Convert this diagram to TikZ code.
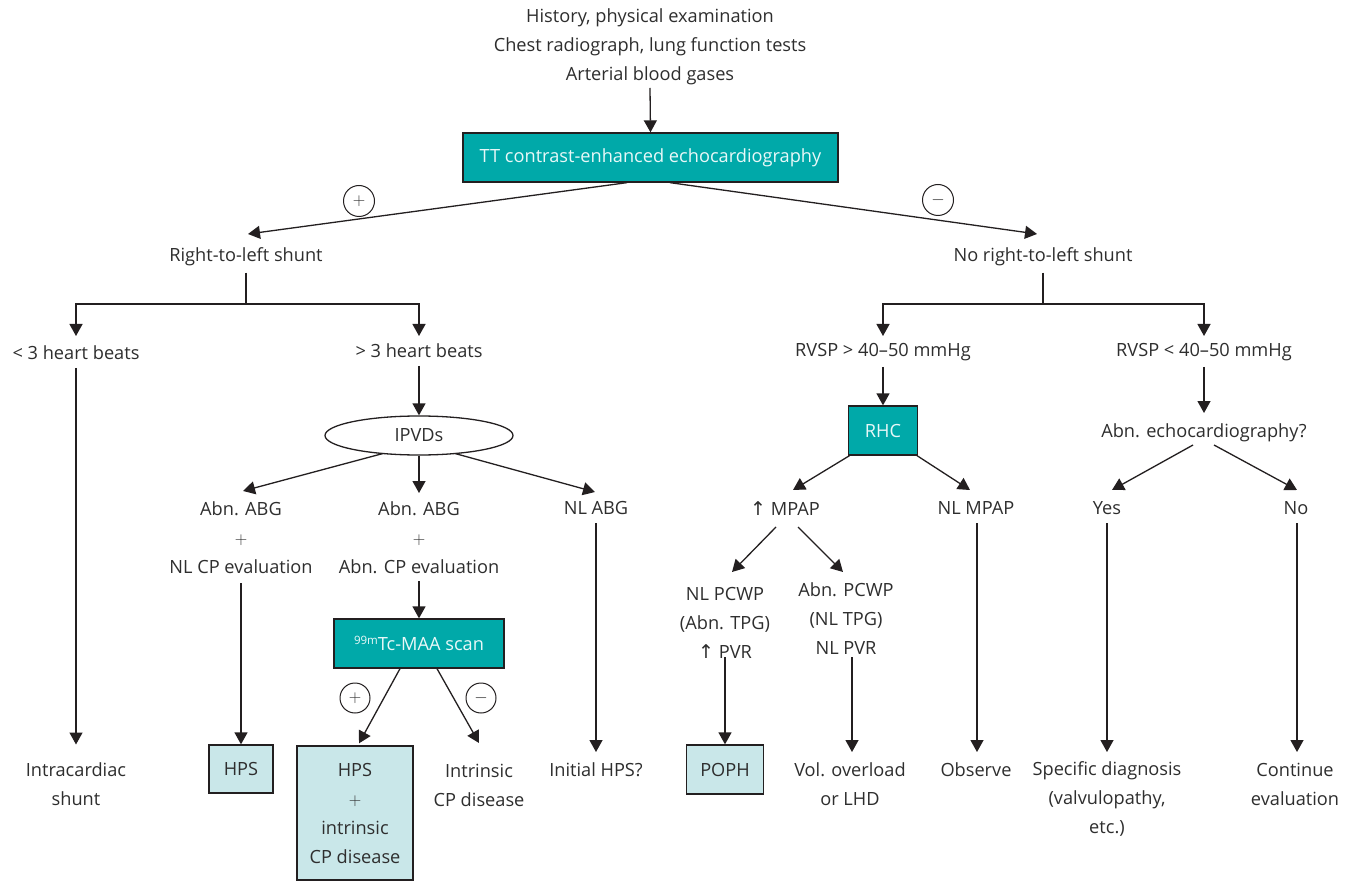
\documentclass[tikz,border=0pt]{standalone}
\usepackage{fontspec}
\setmainfont{Open Sans}
\newfontfamily\arrowfont{DejaVu Sans}
\usetikzlibrary{arrows.meta,shapes.geometric}
\definecolor{inkline}{HTML}{231F20}
\definecolor{inktext}{HTML}{2E2E2E}
\definecolor{tealfill}{HTML}{00A9A9}
\definecolor{palefill}{HTML}{C9E7E9}
\definecolor{tealtext}{HTML}{E8F8F8}
\newcommand{\up}{{\arrowfont\fontsize{19}{19}\selectfont ↑}}
\newcommand{\plusline}{$+$}
\begin{document}
\begin{tikzpicture}[x=1pt,y=-1pt,
  txt/.style={font=\fontsize{18.2}{29}\selectfont, text=inktext, align=center, inner sep=0pt},
  arr/.style={draw=inkline, line width=1.3pt, -{Triangle[length=12pt,width=13pt]}},
  tealbox/.style={txt, rectangle, draw=inkline, line width=1.3pt, fill=tealfill, text=tealtext},
  palebox/.style={txt, rectangle, draw=inkline, line width=1.3pt, fill=palefill},
  sign/.style={circle, draw=inkline, line width=1pt, minimum size=31pt, inner sep=0pt, text=inktext, font=\fontsize{17}{17}\selectfont}
]
\useasboundingbox (0,0) rectangle (1357,882);
\fill[white] (0,0) rectangle (1357,882);

% ---- top of the algorithm
\node[txt] (intro) at (650,47) {History, physical examination\\Chest radiograph, lung function tests\\Arterial blood gases};
\node[tealbox, minimum width=375pt, minimum height=49pt] (tt) at (650.5,157.5) {TT contrast-enhanced echocardiography};
\node[sign] (pos1) at (359,201) {$+$};
\node[sign] (neg1) at (938,200) {$-$};
\node[txt] (rls) at (246,257) {Right-to-left shunt};
\node[txt] (nrls) at (1043,257) {No right-to-left shunt};

% ---- right-to-left shunt branch
\node[txt] (lt3) at (76,353) {< 3 heart beats};
\node[txt] (gt3) at (419,351) {> 3 heart beats};
\node[txt] (intra) at (76,784.5) {Intracardiac\\shunt};
\node[ellipse, draw=inkline, line width=1.3pt, minimum width=188pt, minimum height=39pt, inner sep=0pt, txt] (ipvd) at (419,435.5) {IPVDs};
\node[txt] (abg1) at (241,537.5) {Abn. ABG\\\plusline\\NL CP evaluation};
\node[txt] (abg2) at (419,537.5) {Abn. ABG\\\plusline\\Abn. CP evaluation};
\node[txt] (nlabg) at (596,508) {NL ABG};
\node[palebox, minimum width=64pt, minimum height=48pt] (hps) at (241,769) {HPS};
\node[tealbox, minimum width=170pt, minimum height=49pt] (tc) at (419,643.5) {{\fontsize{11.5}{11.5}\selectfont\raisebox{6.5pt}{99m}}Tc-MAA scan};
\node[sign, minimum size=30pt] (pos2) at (355,698) {$+$};
\node[sign, minimum size=30pt] (neg2) at (481,698) {$-$};
\node[palebox, minimum width=116pt, minimum height=134pt] (hpsint) at (355,813) {HPS\\\plusline\\intrinsic\\CP disease};
\node[txt] (cpd) at (479,785.5) {Intrinsic\\CP disease};
\node[txt] (inithps) at (596,770) {Initial HPS?};

% ---- no right-to-left shunt branch
\node[txt] (rvsp1) at (883,352) {RVSP > 40–50 mmHg};
\node[txt] (rvsp2) at (1204,352) {RVSP < 40–50 mmHg};
\node[tealbox, minimum width=69pt, minimum height=49pt] (rhc) at (883,430.5) {RHC};
\node[txt] (mpap) at (785,509) {\up\ MPAP};
\node[txt] (nlmpap) at (976,508) {NL MPAP};
\node[txt] (pcwp1) at (725,622.5) {NL PCWP\\(Abn. TPG)\\\up\ PVR};
\node[txt] (pcwp2) at (846,619) {Abn. PCWP\\(NL TPG)\\NL PVR};
\node[palebox, minimum width=77pt, minimum height=49pt] (poph) at (725,769.5) {POPH};
\node[txt] (volo) at (850,784.5) {Vol. overload\\or LHD};
\node[txt] (observe) at (976,770) {Observe};
\node[txt] (abnecho) at (1204,433) {Abn. echocardiography?};
\node[txt] (yes) at (1107,508) {Yes};
\node[txt] (no) at (1296,508) {No};
\node[txt] (spec) at (1107,799) {Specific diagnosis\\(valvulopathy,\\etc.)};
\node[txt] (cont) at (1295,784.5) {Continue\\evaluation};

% ---- connectors
\draw[arr] ([yshift=-41]intro.center) -- (tt.north);
\draw[arr] ([xshift=-23.5]tt.south) -- ([xshift=2,yshift=23]rls.center);
\draw[arr] ([xshift=19.5]tt.south) -- ([xshift=-6,yshift=23]nrls.center);

\draw[arr] ([yshift=-16]rls.center) -- ++(0,31) -| ([yshift=17]lt3.center);
\draw[arr] ([yshift=-16]rls.center) -- ++(0,31) -| ([yshift=15]gt3.center);
\draw[arr] ([yshift=-16]nrls.center) -- ++(0,31) -| ([yshift=16]rvsp1.center);
\draw[arr] ([yshift=-16]nrls.center) -- ++(0,31) -| ([yshift=16]rvsp2.center);

\draw[arr] ([yshift=-15]lt3.center) -- ([yshift=40]intra.center);
\draw[arr] ([yshift=-15]gt3.center) -- (ipvd.north);
\draw[arr] ([xshift=-36,yshift=-18]ipvd.center) -- ([xshift=2,yshift=46.5]abg1.center);
\draw[arr] (ipvd.south) -- ([yshift=44.5]abg2.center);
\draw[arr] ([xshift=36,yshift=-18]ipvd.center) -- ([xshift=-1,yshift=16]nlabg.center);
\draw[arr] ([yshift=-45.5]abg1.center) -- (hps.north);
\draw[arr] ([yshift=-43.5]abg2.center) -- (tc.north);
\draw[arr] ([xshift=-19]tc.south) -- ([xshift=4,yshift=2]hpsint.north);
\draw[arr] ([xshift=18]tc.south) -- ([yshift=42.5]cpd.center);
\draw[arr] ([yshift=-15]nlabg.center) -- ([yshift=18]inithps.center);

\draw[arr] ([yshift=-15]rvsp1.center) -- (rhc.north);
\draw[arr] ([xshift=-33.5]rhc.south) -- ([xshift=8,yshift=19]mpap.center);
\draw[arr] ([xshift=34]rhc.south) -- ([xshift=-6,yshift=18]nlmpap.center);
\draw[arr] ([xshift=-9,yshift=-18]mpap.center) -- ([xshift=7,yshift=50.5]pcwp1.center);
\draw[arr] ([xshift=13,yshift=-18]mpap.center) -- ([xshift=-3,yshift=47]pcwp2.center);
\draw[arr] ([yshift=-34.5]pcwp1.center) -- (poph.north);
\draw[arr] ([xshift=6,yshift=-38]pcwp2.center) -- ([xshift=2,yshift=32.5]volo.center);
\draw[arr] ([xshift=1,yshift=-15]nlmpap.center) -- ([xshift=1,yshift=18]observe.center);
\draw[arr] ([yshift=-15]rvsp2.center) -- ([yshift=20]abnecho.center);
\draw[arr] ([xshift=-11,yshift=-12]abnecho.center) -- ([xshift=5,yshift=18]yes.center);
\draw[arr] ([xshift=10,yshift=-12]abnecho.center) -- ([xshift=1,yshift=18]no.center);
\draw[arr] ([yshift=-15]yes.center) -- ([yshift=47]spec.center);
\draw[arr] ([xshift=1,yshift=-15]no.center) -- ([xshift=2,yshift=32.5]cont.center);
\end{tikzpicture}
\end{document}
